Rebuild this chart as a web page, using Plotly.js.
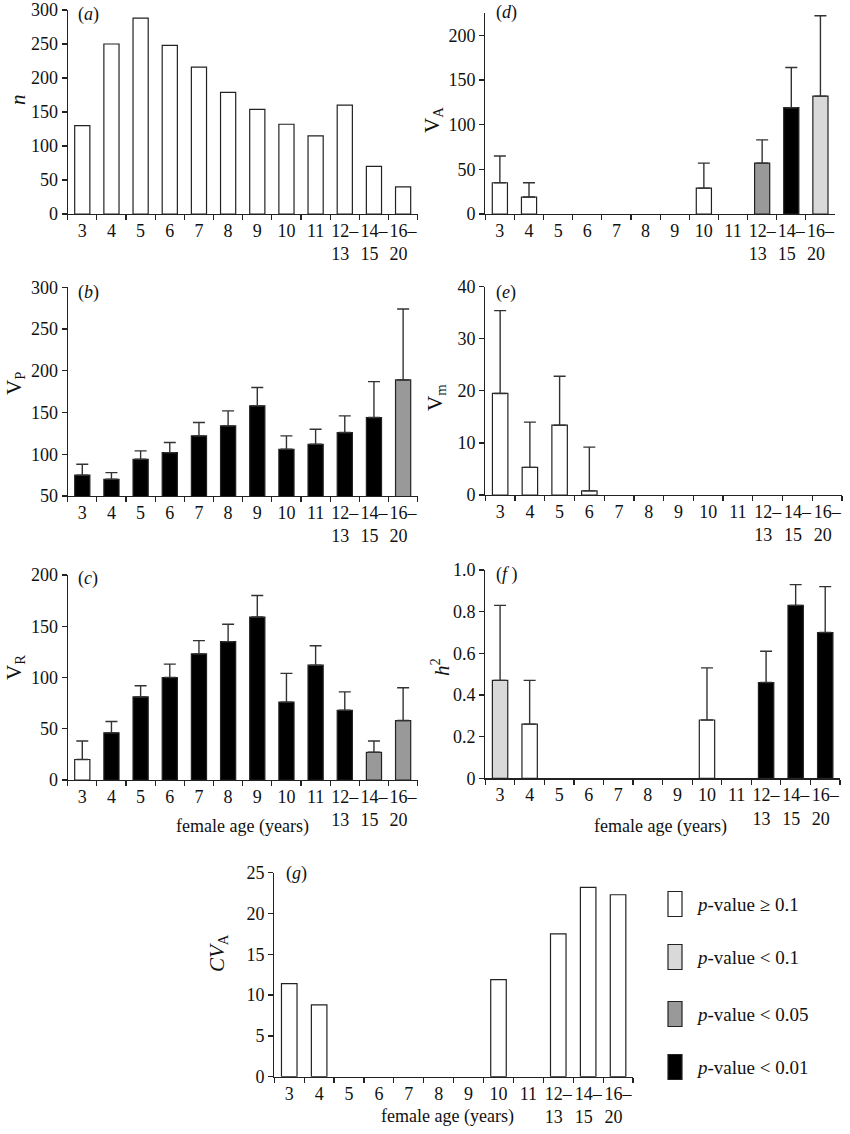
<!DOCTYPE html>
<html>
<head>
<meta charset="utf-8">
<script src="https://cdn.plot.ly/plotly-3.0.1.min.js"></script>
<style>body{margin:0;background:#fff}</style>
</head>
<body>
<div id="chart" style="width:850px;height:1134px"></div>
<script>
// age classes (x categories); the en space keeps the second line under the first
const ages = ["3", "4", "5", "6", "7", "8", "9", "10", "11",
    "12–<br>13\u2002", "14–<br>15\u2002", "16–<br>20\u2002"];

// significance classes and legend text
const levelKeys = ["ns", "p10", "p05", "p01"];
const levelLabels = ["<i>p</i>-value ≥ 0.1", "<i>p</i>-value &lt; 0.1",
    "<i>p</i>-value &lt; 0.05", "<i>p</i>-value &lt; 0.01"];

// (a) sample size
const nValues = [130, 250, 288, 248, 216, 179, 154, 132, 115, 160, 70, 40];
const nLevels = ["ns", "ns", "ns", "ns", "ns", "ns", "ns", "ns", "ns", "ns", "ns", "ns"];

// (b) phenotypic variance
const vpValues = [75, 70, 94, 102, 122, 134, 158, 106, 112, 126, 144, 189];
const vpUpper = [88, 78, 104, 114, 138, 152, 180, 122, 130, 146, 187, 274];
const vpLevels = ["p01", "p01", "p01", "p01", "p01", "p01", "p01", "p01", "p01", "p01", "p01", "p05"];

// (c) residual variance
const vrValues = [20, 46, 81, 100, 123, 135, 159, 76, 112, 68, 27, 58];
const vrUpper = [38, 57, 92, 113, 136, 152, 180, 104, 131, 86, 38, 90];
const vrLevels = ["ns", "p01", "p01", "p01", "p01", "p01", "p01", "p01", "p01", "p01", "p05", "p05"];

// (d) additive genetic variance
const vaValues = [35, 19, null, null, null, null, null, 29, null, 57, 119, 132];
const vaUpper = [65, 35, null, null, null, null, null, 57, null, 83, 164, 222];
const vaLevels = ["ns", "ns", null, null, null, null, null, "ns", null, "p05", "p01", "p10"];

// (e) maternal variance
const vmValues = [19.5, 5.3, 13.4, 0.8, null, null, null, null, null, null, null, null];
const vmUpper = [35.4, 14.0, 22.8, 9.2, null, null, null, null, null, null, null, null];
const vmLevels = ["ns", "ns", "ns", "ns", null, null, null, null, null, null, null, null];

// (f) heritability
const h2Values = [0.47, 0.26, null, null, null, null, null, 0.28, null, 0.46, 0.83, 0.70];
const h2Upper = [0.83, 0.47, null, null, null, null, null, 0.53, null, 0.61, 0.93, 0.92];
const h2Levels = ["p10", "ns", null, null, null, null, null, "ns", null, "p01", "p01", "p01"];

// (g) coefficient of additive variance
const cvaValues = [11.4, 8.8, null, null, null, null, null, 11.9, null, 17.5, 23.2, 22.3];
const cvaLevels = ["ns", "ns", null, null, null, null, null, "ns", null, "ns", "ns", "ns"];

const palette = {ns: "#ffffff", p10: "#d9d9d9", p05: "#999999", p01: "#000000"};
const W = 850, H = 1134;
const FONT = "Liberation Serif, Times New Roman, serif";
const INK = "#222";

const px = (a, b) => [a / W, b / W];
const py = (top, bottom) => [1 - bottom / H, 1 - top / H];

const barTrace = (k, values, levels, upper) => {
    const t = {
        type: "bar",
        x: ages,
        y: values,
        xaxis: "x" + k,
        yaxis: "y" + k,
        width: 0.52,
        marker: {
            color: levels.map(l => palette[l] || "#fff"),
            line: {color: INK, width: 1.2}
        },
        hoverinfo: "none"
    };
    if (upper) {
        t.error_y = {
            type: "data",
            symmetric: false,
            array: upper.map((u, i) => u == null ? null : u - values[i]),
            arrayminus: values.map(v => v == null ? null : 0),
            color: "#333",
            thickness: 1.4,
            width: 6
        };
    }
    return t;
};

const xAxis = (k, dom) => ({
    domain: dom,
    anchor: "y" + k,
    type: "category",
    range: [-0.5, 11.5],
    tickson: "boundaries",
    tickangle: 0,
    ticks: "outside",
    ticklen: 5,
    tickwidth: 1.2,
    tickcolor: INK,
    showline: true,
    linecolor: INK,
    linewidth: 1.2,
    showgrid: false,
    zeroline: false,
    tickfont: {family: FONT, size: 18, color: "#111"},
    fixedrange: true
});

const yAxis = (k, dom, range, vals, text) => ({
    domain: dom,
    anchor: "x" + k,
    range: range,
    tickvals: vals,
    ticktext: text || vals.map(String),
    ticks: "outside",
    ticklen: 5,
    tickwidth: 1.2,
    tickcolor: INK,
    showline: true,
    linecolor: INK,
    linewidth: 1.2,
    showgrid: false,
    zeroline: false,
    tickfont: {family: FONT, size: 18, color: "#111"},
    fixedrange: true
});

const data = [
    barTrace(1, nValues, nLevels),
    barTrace(2, vpValues, vpLevels, vpUpper),
    barTrace(3, vrValues, vrLevels, vrUpper),
    barTrace(4, vaValues, vaLevels, vaUpper),
    barTrace(5, vmValues, vmLevels, vmUpper),
    barTrace(6, h2Values, h2Levels, h2Upper),
    barTrace(7, cvaValues, cvaLevels)
];

const layout = {
    width: W,
    height: H,
    margin: {l: 0, r: 0, t: 0, b: 0},
    paper_bgcolor: "#fff",
    plot_bgcolor: "rgba(0,0,0,0)",
    showlegend: false,
    font: {family: FONT, size: 18, color: "#111"},

    xaxis1: xAxis(1, px(67.7, 417.7)),
    yaxis1: yAxis(1, py(10, 214), [0, 300], [0, 50, 100, 150, 200, 250, 300]),
    xaxis2: xAxis(2, px(67.7, 417.7)),
    yaxis2: yAxis(2, py(287.3, 496), [50, 300], [50, 100, 150, 200, 250, 300]),
    xaxis3: xAxis(3, px(67.7, 417.7)),
    yaxis3: yAxis(3, py(575, 780), [0, 200], [0, 50, 100, 150, 200]),
    xaxis4: xAxis(4, px(485.3, 835)),
    yaxis4: yAxis(4, py(13, 214), [0, 225], [0, 50, 100, 150, 200]),
    xaxis5: xAxis(5, px(485.3, 842)),
    yaxis5: yAxis(5, py(286.7, 495), [0, 40], [0, 10, 20, 30, 40]),
    xaxis6: xAxis(6, px(485.3, 840)),
    yaxis6: yAxis(6, py(570, 778.3), [0, 1], [0, 0.2, 0.4, 0.6, 0.8, 1],
        ["0", "0.2", "0.4", "0.6", "0.8", "1.0"]),
    xaxis7: xAxis(7, px(274.3, 633)),
    yaxis7: yAxis(7, py(872.7, 1076.7), [0, 25], [0, 5, 10, 15, 20, 25]),

    annotations: [],
    shapes: []
};

// panel letters
const panelTags = [
    ["(<i>a</i>)", 76, 14], ["(<i>b</i>)", 76, 292], ["(<i>c</i>)", 76, 578],
    ["(<i>d</i>)", 494, 13], ["(<i>e</i>)", 494, 292], ["(<i>f</i> )", 494, 574],
    ["(<i>g</i>)", 284, 873]
];
panelTags.forEach(([t, x, y]) => layout.annotations.push({
    text: t, xref: "paper", yref: "paper", x: x / W, y: 1 - y / H,
    xanchor: "left", yanchor: "middle", showarrow: false,
    font: {family: FONT, size: 18, color: "#111"}
}));

// y axis titles
const yTitles = [
    ["<i>n</i>", 18, 100], ["V<sub>P</sub>", 15, 384], ["V<sub>R</sub>", 15, 668],
    ["V<sub>A</sub>", 433, 120], ["V<sub>m</sub>", 436, 398], ["<i>h</i><sup>2</sup>", 440, 667],
    ["<i>CV</i><sub>A</sub>", 218, 953]
];
yTitles.forEach(([t, x, y]) => layout.annotations.push({
    text: t, xref: "paper", yref: "paper", x: x / W, y: 1 - y / H,
    xanchor: "center", yanchor: "middle", textangle: -90, showarrow: false,
    font: {family: FONT, size: 21, color: "#111"}
}));

// x axis titles
[[242, 826], [660, 826], [447, 1116]].forEach(([x, y]) => layout.annotations.push({
    text: "female age (years)", xref: "paper", yref: "paper", x: x / W, y: 1 - y / H,
    xanchor: "center", yanchor: "middle", showarrow: false,
    font: {family: FONT, size: 18, color: "#111"}
}));

// legend for the significance classes
const legendRows = [904, 957, 1014, 1067];
levelKeys.forEach((key, i) => {
    const cy = legendRows[i];
    layout.shapes.push({
        type: "rect", xref: "paper", yref: "paper",
        x0: 668 / W, x1: 682 / W, y0: 1 - (cy + 12.5) / H, y1: 1 - (cy - 12.5) / H,
        fillcolor: palette[key], line: {color: INK, width: 1.2}
    });
    layout.annotations.push({
        text: levelLabels[i], xref: "paper", yref: "paper", x: 694 / W, y: 1 - cy / H,
        xanchor: "left", yanchor: "middle", showarrow: false,
        font: {family: FONT, size: 19, color: "#111"}
    });
});

Plotly.newPlot("chart", data, layout, {staticPlot: true});
</script>
</body>
</html>
